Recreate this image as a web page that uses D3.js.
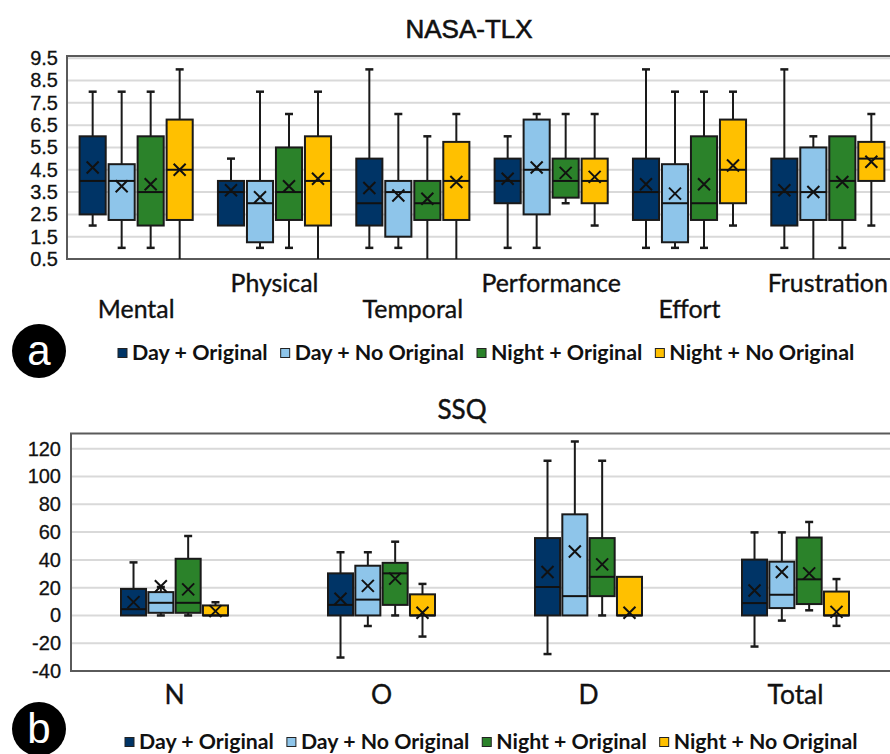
<!DOCTYPE html>
<html>
<head>
<meta charset="utf-8">
<script src="https://cdn.jsdelivr.net/npm/d3@7"></script>
<style>
  html, body { margin: 0; padding: 0; background: #fff; }
  svg { display: block; }
</style>
</head>
<body>
<script>
// series shared by both panels
const series = ["Day + Original", "Day + No Original", "Night + Original", "Night + No Original"];
const colors = ["#003466", "#8ec5ea", "#2b822a", "#ffc000"];

// NASA-TLX, one row per category, one value per series
const tlxCategories = ["Mental", "Physical", "Temporal", "Performance", "Effort", "Frustration"];
const tlxMin = [[2, 1, 1, 0], [2, 1, 1, 0], [1, 1, 0, 0], [1, 1, 3, 2], [1, 1, 1, 2], [1, 0, 1, 2]];
const tlxQ1 = [[2.5, 2.25, 2, 2.25], [2, 1.25, 2.25, 2], [2, 1.5, 2.25, 2.25], [3, 2.5, 3.25, 3], [2.25, 1.25, 2.25, 3], [2, 2.25, 2.25, 4]];
const tlxMedian = [[4, 4, 3.5, 4.5], [3.5, 3, 3.5, 4], [3, 3.5, 3, 4], [4, 4.5, 4, 4], [3.5, 3, 3, 4.5], [3.5, 3.5, 4, 5]];
const tlxQ3 = [[6, 4.75, 6, 6.75], [4, 4, 5.5, 6], [5, 4, 4, 5.75], [5, 6.75, 5, 5], [5, 4.75, 6, 6.75], [5, 5.5, 6, 5.75]];
const tlxMax = [[8, 8, 8, 9], [5, 8, 7, 8], [9, 7, 6, 7], [6, 7, 7, 7], [9, 8, 8, 8], [9, 6, 6, 7]];
const tlxMean = [[4.6, 3.76, 3.85, 4.5], [3.58, 3.27, 3.76, 4.1], [3.68, 3.35, 3.2, 3.95], [4.1, 4.6, 4.36, 4.18], [3.85, 3.43, 3.85, 4.69], [3.58, 3.5, 3.95, 4.86]];
const tlxTicks = [0.5, 1.5, 2.5, 3.5, 4.5, 5.5, 6.5, 7.5, 8.5, 9.5];

// SSQ
const ssqCategories = ["N", "O", "D", "Total"];
const ssqMin = [[0, 0, 0, 0], [-30.3, -7.6, 0, -15.2], [-27.8, 0, 0, 0], [-22.4, -3.7, 3.7, -7.5]];
const ssqQ1 = [[0, 1.9, 1.9, 0], [0, 0, 7.6, 0], [0, 0, 13.9, 0], [0, 5.3, 8.2, 0]];
const ssqMedian = [[4.5, 9.1, 9.1, 0], [7.6, 11.4, 30.3, 0], [20.5, 13.9, 27.8, 0], [8.9, 14.9, 26, 0]];
const ssqQ3 = [[19.1, 16.8, 40.8, 7.2], [30.3, 35.8, 37.9, 15.2], [55.7, 72.8, 55.7, 27.8], [40.2, 38.7, 56.1, 17.2]];
const ssqMax = [[38.2, 20.5, 57.2, 9.5], [45.5, 45.5, 53.1, 22.7], [111.4, 125.3, 111.4, 27.8], [59.8, 59.8, 67.3, 26.2]];
const ssqMean = [[9.6, 21, 18.8, 3.1], [12, 21.3, 26.5, 1.9], [31.3, 46, 36.8, 1.9], [18, 31.3, 30.3, 2.6]];
const ssqTicks = [-40, -20, 0, 20, 40, 60, 80, 100, 120];

const W = 890, H = 754;
const calibri = "Lato, 'Open Sans', sans-serif";
const arial = "'Liberation Sans', Arial, sans-serif";

const svg = d3.select("body").append("svg")
    .attr("width", W)
    .attr("height", H);

// thicken text a little, the source renders heavier than plain regular
function heavy(sel, w) {
  return sel.attr("stroke", "#111").attr("stroke-width", w).attr("paint-order", "stroke");
}

// turns the parallel arrays into one record per box
function rows(cats, mn, q1, md, q3, mx, avg) {
  const out = [];
  cats.forEach((c, i) => series.forEach((s, j) => {
    out.push({ cat: c, s, i: j, min: mn[i][j], q1: q1[i][j], med: md[i][j], q3: q3[i][j], max: mx[i][j], mean: avg[i][j] });
  }));
  return out;
}

function panel(cfg) {
  const { id, cats, data, ticks, left, right, top, bottom, domain, innerPad, outerPad } = cfg;

  const y = d3.scaleLinear().domain(domain).range([bottom, top]);
  const x0 = d3.scaleBand().domain(cats).range([left, right]);
  const x1 = d3.scaleBand().domain(series).range([0, x0.bandwidth()])
      .paddingInner(innerPad).paddingOuter(outerPad);

  const g = svg.append("g");

  g.append("clipPath").attr("id", "clip-" + id)
    .append("rect")
    .attr("x", left).attr("y", top)
    .attr("width", right - left).attr("height", bottom - top);

  // gridlines
  g.append("g").selectAll("line")
    .data(ticks)
    .join("line")
    .attr("x1", left).attr("x2", right)
    .attr("y1", d => y(d)).attr("y2", d => y(d))
    .attr("stroke", "#d9d9d9")
    .attr("stroke-width", 2);

  // y axis labels
  const yAxis = g.append("g")
    .attr("transform", `translate(${left},0)`)
    .call(d3.axisLeft(y).tickValues(ticks).tickSize(0).tickPadding(cfg.tickPad).tickFormat(d => String(d)));
  yAxis.select(".domain").remove();
  heavy(yAxis.selectAll("text")
    .attr("font-family", arial)
    .attr("font-size", 20)
    .attr("fill", "#111"), 0.3);

  // frame (left, top, bottom) - right side runs past the page
  g.append("path")
    .attr("d", `M${right},${top}H${left}V${bottom}H${right}`)
    .attr("fill", "none")
    .attr("stroke", "#5a5a5a")
    .attr("stroke-width", 2);

  const plot = g.append("g").attr("clip-path", `url(#clip-${id})`);
  const bw = x1.bandwidth();
  const cx = d => x0(d.cat) + x1(d.s) + bw / 2;

  const box = plot.selectAll("g.box")
    .data(data)
    .join("g")
    .attr("class", "box");

  // whiskers
  box.append("line")
    .attr("x1", cx).attr("x2", cx)
    .attr("y1", d => y(d.max)).attr("y2", d => y(d.q3))
    .attr("stroke", "#1a1a1a").attr("stroke-width", 2);
  box.append("line")
    .attr("x1", cx).attr("x2", cx)
    .attr("y1", d => y(d.q1)).attr("y2", d => y(d.min))
    .attr("stroke", "#1a1a1a").attr("stroke-width", 2);
  // caps
  box.filter(d => d.max > d.q3).append("line")
    .attr("x1", d => cx(d) - 4).attr("x2", d => cx(d) + 4)
    .attr("y1", d => y(d.max)).attr("y2", d => y(d.max))
    .attr("stroke", "#1a1a1a").attr("stroke-width", 2.5);
  box.filter(d => d.min < d.q1).append("line")
    .attr("x1", d => cx(d) - 4).attr("x2", d => cx(d) + 4)
    .attr("y1", d => y(d.min)).attr("y2", d => y(d.min))
    .attr("stroke", "#1a1a1a").attr("stroke-width", 2.5);

  // boxes
  box.append("rect")
    .attr("x", d => x0(d.cat) + x1(d.s))
    .attr("y", d => y(d.q3))
    .attr("width", bw)
    .attr("height", d => y(d.q1) - y(d.q3))
    .attr("fill", d => colors[d.i])
    .attr("stroke", "#1a1a1a")
    .attr("stroke-width", 2);

  // median
  box.append("line")
    .attr("x1", d => x0(d.cat) + x1(d.s)).attr("x2", d => x0(d.cat) + x1(d.s) + bw)
    .attr("y1", d => y(d.med)).attr("y2", d => y(d.med))
    .attr("stroke", "#111").attr("stroke-width", 2);

  // mean marker (x)
  box.append("path")
    .attr("d", d => {
      const px = cx(d), py = y(d.mean), r = 6;
      return `M${px - r},${py - r}L${px + r},${py + r}M${px - r},${py + r}L${px + r},${py - r}`;
    })
    .attr("stroke", "#111").attr("stroke-width", 2).attr("fill", "none");

  // category labels
  const labels = g.append("g").selectAll("text")
    .data(cats)
    .join("text")
    .attr("x", d => x0(d) + x0.bandwidth() / 2)
    .attr("y", (d, i) => cfg.labelY(i))
    .attr("text-anchor", "middle")
    .attr("font-family", calibri)
    .attr("font-size", 24)
    .attr("fill", "#111")
    .text(d => d);
  // fit to the reference label width
  const ref = labels.filter(d => d === cfg.fitLabel).node().getComputedTextLength();
  heavy(labels.attr("font-size", 24 * cfg.fitWidth / ref), 0.35);

  return g;
}

function legend(cy, x0, x1) {
  const g = svg.append("g");
  const items = g.selectAll("text")
    .data(series)
    .join("text")
    .attr("font-family", calibri)
    .attr("font-weight", "bold")
    .attr("font-size", 20)
    .attr("fill", "#111")
    .text(d => d);
  const sq = 9, gapIn = 5, gapOut = 13;
  const fixed = series.length * (sq + gapIn) + (series.length - 1) * gapOut;
  const t20 = d3.sum(items.nodes(), n => n.getComputedTextLength());
  const fs = 20 * (x1 - x0 - fixed) / t20;
  items.attr("font-size", fs);
  let x = x0;
  items.each(function (d, i) {
    const w = this.getComputedTextLength();
    g.append("rect")
      .attr("x", x).attr("y", cy - sq / 2)
      .attr("width", sq).attr("height", sq)
      .attr("fill", colors[i])
      .attr("stroke", "#222").attr("stroke-width", 1);
    d3.select(this).attr("x", x + sq + gapIn).attr("y", cy).attr("dy", "0.35em");
    x += sq + gapIn + w + gapOut;
  });
}

function badge(cx, cy, letter) {
  svg.append("circle").attr("cx", cx).attr("cy", cy).attr("r", 27).attr("fill", "#000");
  svg.append("text")
    .attr("x", cx).attr("y", cy).attr("dy", "0.33em")
    .attr("text-anchor", "middle")
    .attr("font-family", arial)
    .attr("font-size", 42)
    .attr("fill", "#fff")
    .text(letter);
}

// panel a: NASA-TLX
heavy(svg.append("text")
  .attr("x", 469).attr("y", 38)
  .attr("text-anchor", "middle")
  .attr("font-family", arial)
  .attr("font-size", 26)
  .attr("fill", "#111")
  .text("NASA-TLX"), 0.6);

panel({
  id: "tlx",
  cats: tlxCategories,
  data: rows(tlxCategories, tlxMin, tlxQ1, tlxMedian, tlxQ3, tlxMax, tlxMean),
  ticks: tlxTicks,
  left: 67, right: 897, top: 56, bottom: 259,
  domain: [0.5, 9.6],
  innerPad: 0.1, outerPad: 0.435,
  tickPad: 9,
  labelY: i => i % 2 ? 292 : 318,
  fitLabel: "Physical", fitWidth: 88
});

legend(353, 118, 855);
badge(39, 351, "a");

// panel b: SSQ
heavy(svg.append("text")
  .attr("x", 462).attr("y", 419)
  .attr("text-anchor", "middle")
  .attr("font-family", calibri)
  .attr("font-size", 26)
  .attr("fill", "#111")
  .text("SSQ"), 0.5);

panel({
  id: "ssq",
  cats: ssqCategories,
  data: rows(ssqCategories, ssqMin, ssqQ1, ssqMedian, ssqQ3, ssqMax, ssqMean),
  ticks: ssqTicks,
  left: 71, right: 899, top: 433.5, bottom: 671,
  domain: [-40, 131],
  innerPad: 0.084, outerPad: 1.83,
  tickPad: 10,
  labelY: () => 704,
  fitLabel: "Total", fitWidth: 56
});

legend(742, 125, 858);
badge(39, 729, "b");
</script>
</body>
</html>
